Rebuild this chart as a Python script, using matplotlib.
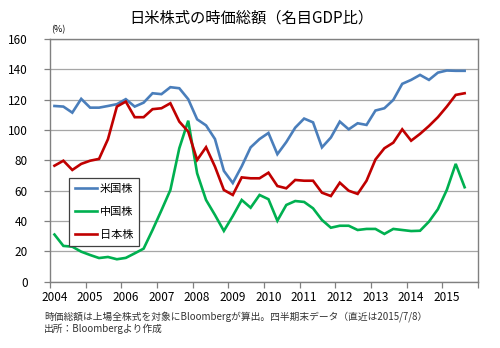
import numpy as np
import matplotlib
matplotlib.use('Agg')
import matplotlib.pyplot as plt

plt.rcParams['font.family'] = ['Noto Sans CJK JP', 'DejaVu Sans']

# quarterly values, 2004Q1 .. 2015/7/8 (% of nominal GDP)
us = [115.8, 115.4, 111.4, 120.5, 114.7, 114.7, 115.8, 117, 120.3, 115.4,
      118, 124.2, 123.6, 128.2, 127.5, 120.3, 107, 103, 94, 73,
      65, 76, 88.5, 94, 98, 84, 92, 101.5, 107.5, 105,
      88.5, 95, 105.5, 100.4, 104.4, 103.3, 112.8, 114.3, 119.8, 130.4,
      133, 136.3, 133, 137.8, 139.2, 139, 139]
cn = [31, 23.5, 23, 19.7, 17.5, 15.5, 16.2, 14.7, 15.6, 18.6,
      21.7, 34, 47, 60.4, 87.9, 106.1, 71.4, 53.8, 43.9, 33.4,
      43.2, 53.8, 48.7, 57.1, 54.3, 40.1, 50.5, 53.1, 52.5, 48.3,
      40.6, 35.5, 36.8, 36.8, 34, 34.7, 34.7, 31.4, 34.7, 34,
      33.3, 33.5, 39.5, 47.7, 60.4, 77.6, 62.2]
jp = [76.4, 79.7, 73.6, 77.6, 79.7, 80.9, 93.9, 115.4, 118.7, 108.4,
      108.4, 113.7, 114.3, 117.6, 105.5, 98.9, 80.2, 88.6, 75.8, 60.4,
      57.1, 68.7, 68.1, 68.1, 71.8, 63, 61.5, 67, 66.5, 66.5,
      58.6, 56.4, 65.2, 59.9, 57.8, 66.5, 80.5, 87.9, 91.6, 100.4,
      92.9, 97.4, 102.6, 108.4, 115.4, 123.1, 124.2]
years = list(range(2004, 2016))
names = ['米国株', '中国株', '日本株']
colors = ['#4a7ebb', '#00b050', '#c00000']

x = 2004 + (np.arange(len(us)) + 0.5) / 4.0

fig = plt.figure(figsize=(5.0, 3.48), dpi=100)
ax = fig.add_axes([0.1, 0.191, 0.856, 0.697])

for vals, name, c in zip([us, cn, jp], names, colors):
    ax.plot(x, vals, color=c, lw=1.9, label=name, solid_joinstyle='miter')

ax.set_xlim(2004, 2016)
ax.set_ylim(0, 160)
ax.set_yticks(range(0, 161, 20))
ax.yaxis.grid(True, color='#a6a6a6', lw=0.9)
ax.set_axisbelow(True)

# year labels sit a bit right of the tick marks
ax.set_xticks(range(2004, 2017), minor=True)
ax.set_xticks([y + 0.12 for y in years])
ax.set_xticklabels([str(y) for y in years])
ax.tick_params(axis='x', which='major', length=0, pad=7, labelsize=8.5)
ax.tick_params(axis='x', which='minor', length=4, color='#808080', width=0.9)
ax.tick_params(axis='y', length=4, color='#808080', width=0.9, labelsize=8.5, pad=12)

for s in ax.spines.values():
    s.set_color('#808080')
    s.set_linewidth(1.0)

leg = ax.legend(loc='upper left', bbox_to_anchor=(0.044, 0.427), borderaxespad=0,
                fontsize=8, handlelength=2.0, handletextpad=0.25, labelspacing=1.15,
                borderpad=0.55, fancybox=False, framealpha=1)
leg.get_frame().set_edgecolor('#404040')
leg.get_frame().set_linewidth(0.9)

fig.text(0.502, 0.948, '日米株式の時価総額（名目GDP比）', ha='center', va='center', fontsize=11)
fig.text(0.102, 0.915, '(%)', ha='left', va='center', fontsize=6.5)
fig.text(0.088, 0.089, '時価総額は上場全株式を対象にBloombergが算出。四半期末データ（直近は2015/7/8）',
         ha='left', va='center', fontsize=7, color='#333333')
fig.text(0.088, 0.054, '出所：Bloombergより作成', ha='left', va='center', fontsize=7, color='#333333')

fig.savefig('out.png', dpi=100)
